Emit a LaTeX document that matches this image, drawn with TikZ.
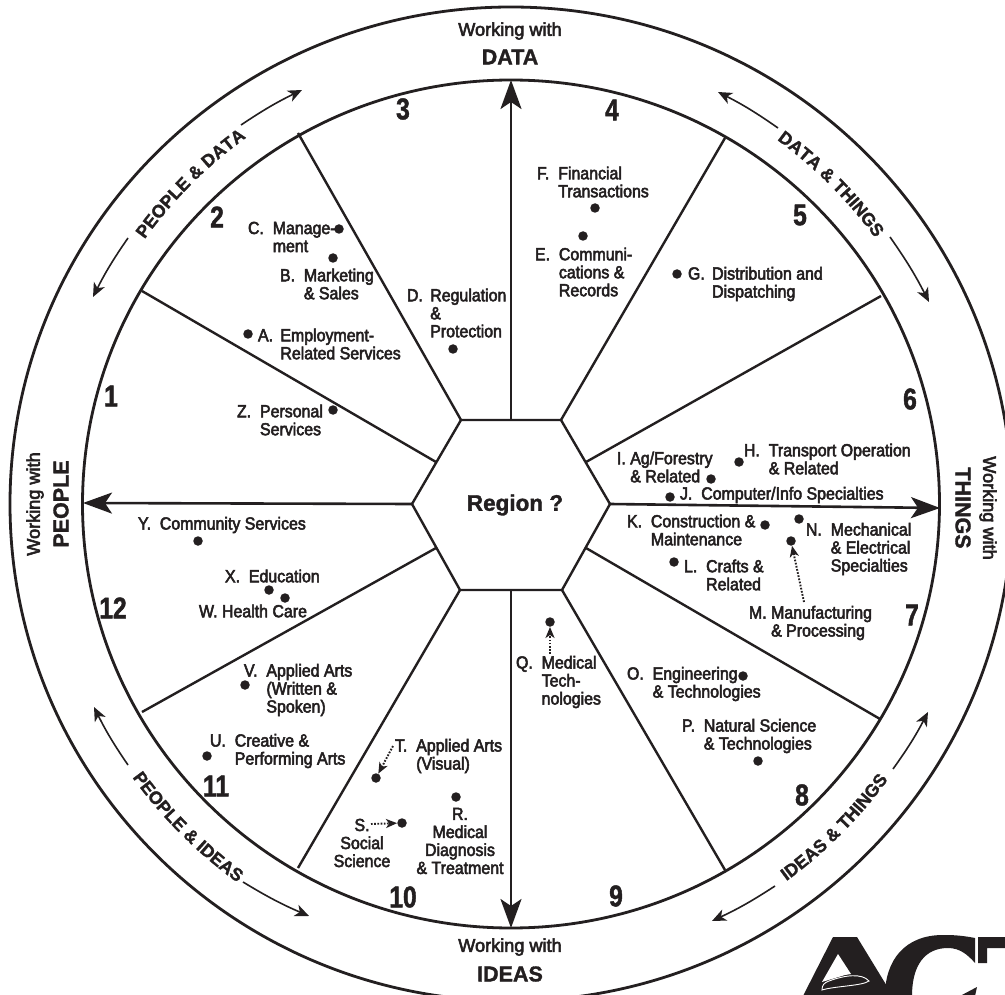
\documentclass[tikz,border=0pt]{standalone}
\usepackage{fontspec}
\usetikzlibrary{arrows.meta,decorations.text,calc}
\setmainfont{Liberation Sans}
\newfontfamily\labfont{Liberation Sans}[FakeBold=3,FakeStretch=0.91]
\newfontfamily\wkfont{Liberation Sans}[FakeBold=3,FakeStretch=0.98]
\newfontfamily\boldfont{Liberation Sans Bold}[FakeBold=1.5]
\newfontfamily\numfont{Liberation Sans Bold}[FakeStretch=0.82,FakeBold=1.5]
\newcommand\ind[1]{\hphantom{#1}}
\definecolor{ink}{HTML}{231F20}
\tikzset{
  ringline/.style={draw=ink,line width=2.8pt},
  spoke/.style={draw=ink,line width=2.4pt},
  axis/.style={draw=ink,line width=2.6pt,-{Stealth[length=29pt,width=21pt,inset=7pt]}},
  ringarrow/.style={draw=ink,line width=1.6pt,-{Stealth[length=14pt,width=12pt,inset=4pt]}},
  dotarrow/.style={draw=ink,line width=1.9pt,dash pattern=on 1.7pt off 1.5pt,-{Stealth[length=11pt,width=9pt,inset=3pt]}},
  jobdot/.style={circle,fill=ink,inner sep=0pt,minimum size=9.5pt},
  lab/.style={inner sep=0pt,outer sep=0pt,anchor=west,align=left,text=ink,font=\labfont\fontsize{17.5}{18}\selectfont},
  clab/.style={lab,anchor=center,align=center},
  num/.style={inner sep=0pt,text=ink,font=\numfont\fontsize{30}{30}\selectfont},
  wk/.style={inner sep=0pt,text=ink,align=center,font=\wkfont\fontsize{18.5}{26}\selectfont},
  big/.style={inner sep=0pt,text=ink,font=\boldfont\fontsize{21.5}{26}\selectfont},
}
\newcommand\ringtext[4]{% start angle, end angle, radius, text
  \path[decorate,decoration={text along path,text align=center,
     text={|\boldfont\fontsize{17.8}{20}\selectfont\color{ink}|#4}}]
     ($(O)+(#1:#3)$) arc[start angle=#1,end angle=#2,radius=#3];}
\begin{document}
\begin{tikzpicture}[x=1pt,y=-1pt]
\useasboundingbox (0,0) rectangle (1005,995);
\clip (0,0) rectangle (1005,995);
\fill[white] (0,0) rectangle (1005,995);
\coordinate (O) at (511,504);
% rings
\draw[ringline] (O) ellipse[x radius=501,y radius=497];
\draw[ringline] (O) ellipse[x radius=428.5,y radius=424];
% hexagon
\coordinate (hTL) at (461,420);
\coordinate (hTR) at (561,420);
\coordinate (hR) at (610,504);
\coordinate (hBR) at (562,590);
\coordinate (hBL) at (460,590);
\coordinate (hL) at (412,504);
\coordinate (mUR) at (586,462);
\coordinate (mLR) at (586,548);
\coordinate (mUL) at (436,462);
\coordinate (mLL) at (436,548);
\coordinate (hT) at (511,420);
\coordinate (hB) at (511,590);
\draw[spoke,line join=miter] (hTL)--(hTR)--(hR)--(hBR)--(hBL)--(hL)--cycle;
% spokes
\coordinate (r3) at (298,133);
\coordinate (r4) at (725,138);
\coordinate (r5) at (881,296);
\coordinate (r6) at (880,719);
\coordinate (r7) at (725,870);
\coordinate (r8) at (298,868);
\coordinate (r9) at (142,712);
\coordinate (r10) at (142,291);
\draw[spoke] (hTL)--(r3);
\draw[spoke] (hTR)--(r4);
\draw[spoke] (mUR)--(r5);
\draw[spoke] (mLR)--(r6);
\draw[spoke] (hBR)--(r7);
\draw[spoke] (hBL)--(r8);
\draw[spoke] (mLL)--(r9);
\draw[spoke] (mUL)--(r10);
% axes
\coordinate (tipT) at (511,80);
\coordinate (tipB) at (511,928);
\coordinate (tipL) at (83,503);
\coordinate (tipR) at (940,508);
\draw[axis] (hT)--(tipT);
\draw[axis] (hB)--(tipB);
\draw[axis] (hL)--(tipL);
\draw[axis] (hR)--(tipR);
\node[big,font=\boldfont\fontsize{22.5}{26}\selectfont] (region) at (515,505) {Region ?};
% axis labels
\node[wk] (wkD) at (510,31) {Working with};
\node[big] (bigD) at (510,57) {DATA};
\node[wk] (wkI) at (510,947) {Working with};
\node[big] (bigI) at (510,974) {IDEAS};
\node[wk,rotate=90] (wkP) at (35,504) {Working with};
\node[big,rotate=90] (bigP) at (61,504) {PEOPLE};
\node[wk,rotate=-90] (wkT) at (988,508) {Working with};
\node[big,rotate=-90] (bigT) at (963,508) {THINGS};
% ring texts
\ringtext{205}{245}{452}{PEOPLE {\&} DATA}
\ringtext{295}{335}{451}{DATA {\&} THINGS}
\ringtext{155}{115}{467}{PEOPLE {\&} IDEAS}
\ringtext{65}{25}{467}{IDEAS {\&} THINGS}
% ring arrows
\coordinate (a1s) at (241,125); \coordinate (a1e) at (302,90);
\coordinate (a2s) at (128,238); \coordinate (a2e) at (93,297);
\coordinate (a3s) at (778,128); \coordinate (a3e) at (718,92);
\coordinate (a4s) at (890,237); \coordinate (a4e) at (929,302);
\coordinate (a5s) at (893,769); \coordinate (a5e) at (928,712);
\coordinate (a6s) at (775,886); \coordinate (a6e) at (712,921);
\coordinate (a7s) at (128,765); \coordinate (a7e) at (94,707);
\coordinate (a8s) at (243,882); \coordinate (a8e) at (309,916);
\draw[ringarrow] (a1s) to[bend left=4] (a1e);
\draw[ringarrow] (a2s) to[bend right=4] (a2e);
\draw[ringarrow] (a3s) to[bend right=4] (a3e);
\draw[ringarrow] (a4s) to[bend left=4] (a4e);
\draw[ringarrow] (a5s) to[bend right=4] (a5e);
\draw[ringarrow] (a6s) to[bend left=4] (a6e);
\draw[ringarrow] (a7s) to[bend left=4] (a7e);
\draw[ringarrow] (a8s) to[bend right=4] (a8e);
% numbers
\node[num] (n1) at (111,396) {1};
\node[num] (n2) at (217,217) {2};
\node[num] (n3) at (403,109) {3};
\node[num] (n4) at (612,110) {4};
\node[num] (n5) at (800,215) {5};
\node[num] (n6) at (910,399) {6};
\node[num] (n7) at (912,615) {7};
\node[num] (n8) at (802,795) {8};
\node[num] (n9) at (616,896) {9};
\node[num] (n10) at (403,897) {10};
\node[num] (n11) at (216,786) {11};
\node[num] (n12) at (113,608) {12};
% dots
\foreach \nm/\x/\y in {C/339/229,B/333/258,A/248/334,Z/333/410,D/453/349,F/595/208,E/583/236,G/677/274,
  H/739/462,I/711/479,J/670/497,K/765/525,N/799/519,M/791/541,L/674/562,O/743/676,P/758/761,Q/550/622,
  R/456/797,S/402/823,T/376/778,U/207/756,V/245/685,W/285/598,X/269/590,Y/198/541}
  \node[jobdot] (d\nm) at (\x,\y) {};
% dotted arrows
\coordinate (fM) at (804,602); \coordinate (fQ) at (550,654);
\coordinate (fT) at (393,746); \coordinate (fS) at (371,824);
\draw[dotarrow] (fM)--(dM);
\draw[dotarrow] (fQ)--(dQ);
\draw[dotarrow] (fT)--(dT);
\draw[dotarrow] (fS)--(dS);
% labels
\node[lab] (lC) at (248,237) {C.\ \ Manage-\\\ind{C.\ \ }ment};
\node[lab] (lB) at (280,284) {B.\ \ Marketing\\\ind{B.\ \ }\& Sales};
\node[lab] (lA) at (258,344) {A.\ \,Employment-\\\ind{A.\ \,}Related Services};
\node[lab] (lZ) at (237,420) {Z.\ \ Personal\\\ind{Z.\ \ }Services};
\node[lab] (lD) at (407,313) {D.\ \,Regulation\\\ind{D.\ \,}\&\\\ind{D.\ \,}Protection};
\node[lab] (lF) at (537,182) {F.\ \ Financial\\\ind{F.\ \ }Transactions};
\node[lab] (lE) at (535,272) {E.\ \ Communi-\\\ind{E.\ \ }cations \&\\\ind{E.\ \ }Records};
\node[lab] (lG) at (688,284) {G.\ \,Distribution and\\\ind{G.\ \,}Dispatching};
\node[lab] (lH) at (744,459) {H.\ \ Transport Operation\\\ind{H.\ \ }\& Related};
\node[lab] (lI) at (617,467) {I.\ Ag/Forestry\\\ind{I.\ }\& Related};
\node[lab] (lJ) at (680,495) {J.\ \ Computer/Info Specialties};
\node[lab] (lK) at (627,530) {K.\ \ Construction \&\\\ind{K.\ \ }Maintenance};
\node[lab] (lL) at (684,575) {L.\ \ Crafts \&\\\ind{L.\ \ }Related};
\node[lab] (lN) at (806,549) {N.\ \ Mechanical\\\ind{N.\ \ }\& Electrical\\\ind{N.\ \ }Specialties};
\node[lab] (lM) at (749,623) {M.\ Manufacturing\\\ind{M.\ }\& Processing};
\node[lab] (lO) at (627,684) {O.\ \ Engineering\\\ind{O.\ \ }\& Technologies};
\node[lab] (lP) at (682,736) {P.\ \ Natural Science\\\ind{P.\ \ }\& Technologies};
\node[lab] (lQ) at (516,682) {Q.\ \ Medical\\\ind{Q.\ \ }Tech-\\\ind{Q.\ \ }nologies};
\node[clab] (lR) at (460,841) {R.\\Medical\\Diagnosis\\\& Treatment};
\node[clab] (lS) at (362,843) {S.\\Social\\Science};
\node[lab] (lT) at (395,756) {T.\ \ Applied Arts\\\ind{T.\ \ }(Visual)};
\node[lab] (lU) at (210,751) {U.\ \ Creative \&\\\ind{U.\ \ }Performing Arts};
\node[lab] (lV) at (244,690) {V.\ \ Applied Arts\\\ind{V.\ \ }(Written \&\\\ind{V.\ \ }Spoken)};
\node[lab] (lW) at (199,611) {W.\ Health Care};
\node[lab] (lX) at (225,576) {X.\ \ Education};
\node[lab] (lY) at (138,525) {Y.\ \ Community Services};
% logo
\fill[ink] (803,996) -- (833,937) -- (857,937) -- (893,996) -- cycle;
\fill[white] (838,954) -- (822,982) -- (845,975) -- (851,974) -- cycle;
\filldraw[ink,draw=white,line width=0.9pt] (822,990) .. controls (822,985) and (824,983) .. (829,981) .. controls (845,975) and (862,973) .. (869,981) .. controls (862,986) and (835,986) .. (822,990) -- cycle;
\fill[ink] (975,938) .. controls (960,935) and (950,935) .. (943,935) .. controls (905,935) and (885,960) .. (885,996) -- (912,996) .. controls (912,965) and (925,948) .. (948,948) .. controls (960,948) and (968,955) .. (975,963) -- cycle;
\fill[ink] (960,996) -- (977,987) -- (975,996) -- cycle;
\fill[ink] (978,937) -- (1006,937) -- (1006,948) -- (987,948) -- (987,963) -- (978,963) -- cycle;
\end{tikzpicture}
\end{document}
